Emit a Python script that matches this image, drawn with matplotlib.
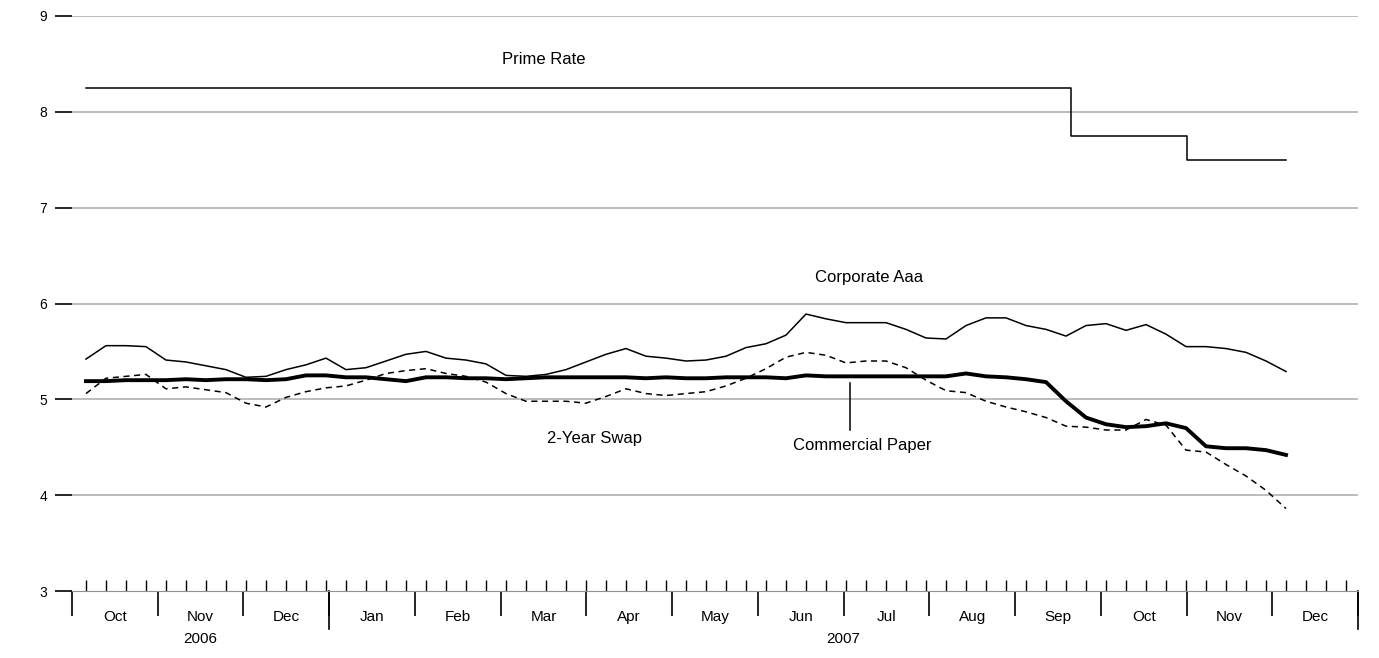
import matplotlib
matplotlib.use("Agg")
import matplotlib.pyplot as plt
import numpy as np

plt.rcParams["font.family"] = ["Liberation Sans", "DejaVu Sans"]

# ─── DATA (weekly, Oct 2006 - Dec 2007) ──────────────────────────────────
corp_aaa = [5.42, 5.56, 5.56, 5.55, 5.41, 5.39, 5.35, 5.31, 5.23, 5.24,
            5.31, 5.36, 5.43, 5.31, 5.33, 5.40, 5.47, 5.50, 5.43, 5.41,
            5.37, 5.25, 5.24, 5.26, 5.31, 5.39, 5.47, 5.53, 5.45, 5.43,
            5.40, 5.41, 5.45, 5.54, 5.58, 5.67, 5.89, 5.84, 5.80, 5.80,
            5.80, 5.73, 5.64, 5.63, 5.77, 5.85, 5.85, 5.77, 5.73, 5.66,
            5.77, 5.79, 5.72, 5.78, 5.68, 5.55, 5.55, 5.53, 5.49, 5.40,
            5.29]
comm_paper = [5.19, 5.19, 5.20, 5.20, 5.20, 5.21, 5.20, 5.21, 5.21, 5.20,
              5.21, 5.25, 5.25, 5.23, 5.23, 5.21, 5.19, 5.23, 5.23, 5.22,
              5.22, 5.21, 5.22, 5.23, 5.23, 5.23, 5.23, 5.23, 5.22, 5.23,
              5.22, 5.22, 5.23, 5.23, 5.23, 5.22, 5.25, 5.24, 5.24, 5.24,
              5.24, 5.24, 5.24, 5.24, 5.27, 5.24, 5.23, 5.21, 5.18, 4.98,
              4.81, 4.74, 4.71, 4.72, 4.75, 4.70, 4.51, 4.49, 4.49, 4.47,
              4.42]
swap_2y = [5.06, 5.22, 5.24, 5.26, 5.11, 5.13, 5.10, 5.07, 4.96, 4.92,
           5.02, 5.08, 5.12, 5.14, 5.20, 5.27, 5.30, 5.32, 5.27, 5.24,
           5.18, 5.06, 4.98, 4.98, 4.98, 4.96, 5.03, 5.11, 5.06, 5.04,
           5.06, 5.08, 5.14, 5.22, 5.32, 5.44, 5.49, 5.46, 5.38, 5.40,
           5.40, 5.33, 5.20, 5.09, 5.07, 4.98, 4.92, 4.87, 4.81, 4.72,
           4.71, 4.68, 4.68, 4.79, 4.73, 4.47, 4.45, 4.32, 4.20, 4.05,
           3.86]
# prime rate: (month position of change, rate)
prime_x = [0.163, 11.65, 13.0, 14.16]
prime_y = [8.25, 7.75, 7.50, 7.50]

months = ["Oct", "Nov", "Dec", "Jan", "Feb", "Mar", "Apr", "May",
          "Jun", "Jul", "Aug", "Sep", "Oct", "Nov", "Dec"]

# x in month units (0 = start of Oct 2006)
x0, x1 = 0.163, 14.16
weeks = np.linspace(x0, x1, len(corp_aaa))
step = weeks[1] - weeks[0]

fig = plt.figure(figsize=(13.79, 6.58), dpi=100)
ax = fig.add_axes([0.0522, 0.1018, 0.9326, 0.8739])

for y in range(4, 10):
    ax.axhline(y, color="#b0b0b0", lw=1.2, zorder=0)

ax.step(prime_x, prime_y, where="post", color="black", lw=1.1)
ax.plot(weeks, corp_aaa, color="black", lw=1.1)
ax.plot(weeks, swap_2y, color="black", lw=1.1, ls=(0, (4, 3)))
ax.plot(weeks, comm_paper, color="black", lw=2.8)

ax.text(5.5, 8.55, "Prime Rate", ha="center", va="center", fontsize=12)
ax.text(9.3, 6.27, "Corporate Aaa", ha="center", va="center", fontsize=12)
ax.text(6.1, 4.59, "2-Year Swap", ha="center", va="center", fontsize=12)
ax.text(9.22, 4.52, "Commercial Paper", ha="center", va="center", fontsize=12)
ax.plot([9.08, 9.08], [4.68, 5.17], color="black", lw=1.1)

ax.set_xlim(0, 15)
ax.set_ylim(3, 9)
for s in ["top", "right", "left"]:
    ax.spines[s].set_visible(False)
ax.spines["bottom"].set_color("#909090")

ax.set_yticks(range(3, 10))
ax.tick_params(axis="y", length=12, width=1.2, labelsize=10, pad=6)

# weekly minor ticks pointing up, month boundaries pointing down
minor = x0 + step * np.arange(0, 64)
ax.set_xticks(minor, minor=True)
ax.tick_params(axis="x", which="minor", direction="in", length=8, width=1)
ax.set_xticks(range(0, 16))
ax.set_xticklabels([])
ax.tick_params(axis="x", which="major", direction="out", length=18, width=1.2)
for xb in (3, 15):
    ax.plot([xb, xb], [3, 2.6], color="black", lw=1.2, clip_on=False)

for i, m in enumerate(months):
    ax.text(i + 0.5, 2.73, m, ha="center", va="center", fontsize=11)
ax.text(1.5, 2.5, "2006", ha="center", va="center", fontsize=11)
ax.text(9.0, 2.5, "2007", ha="center", va="center", fontsize=11)

fig.savefig("out.png", dpi=100)
